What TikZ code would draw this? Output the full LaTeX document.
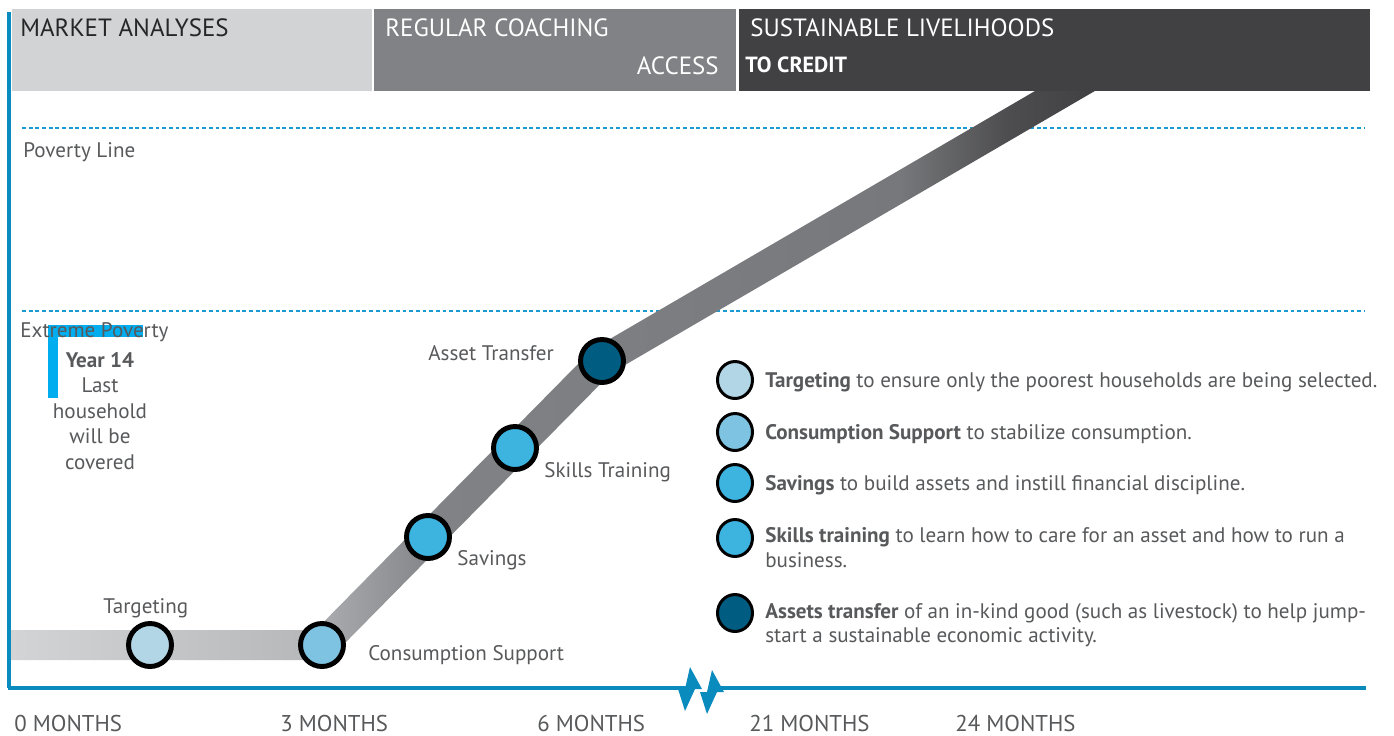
\documentclass[tikz,border=0pt]{standalone}
\usepackage{fontspec}
\setmainfont{PT Sans}
\usepackage{tikz}
\usetikzlibrary{shapes.geometric}

\definecolor{axisblue}{HTML}{0A8BBE}
\definecolor{dashblue}{HTML}{1A9AD0}
\definecolor{brackblue}{HTML}{00AEEF}
\definecolor{txtgray}{HTML}{58595B}
\definecolor{hdrlight}{HTML}{D1D3D4}
\definecolor{hdrmid}{HTML}{808285}
\definecolor{hdrdark}{HTML}{414042}
\definecolor{bandA}{HTML}{D3D4D6}
\definecolor{bandB}{HTML}{B8B9BB}
\definecolor{bandC}{HTML}{A7A9AC}
\definecolor{bandD}{HTML}{808285}
\definecolor{bandE}{HTML}{77787B}
\definecolor{bandF}{HTML}{4D4D4F}
\definecolor{bandG}{HTML}{414042}
\definecolor{stepA}{HTML}{B3D6E7}
\definecolor{stepB}{HTML}{7FC3E2}
\definecolor{stepC}{HTML}{3DB4E0}
\definecolor{stepD}{HTML}{005C80}

% gradient of the progress band, light on the left, dark at the top end
\pgfdeclarehorizontalshading{bandshade}{100bp}{%
    color(0bp)=(bandA); color(25bp)=(bandA); color(38.3bp)=(bandB);
    color(39.7bp)=(bandC); color(44.8bp)=(bandD); color(66bp)=(bandE);
    color(71bp)=(bandF); color(75bp)=(bandG); color(100bp)=(bandG)}

\begin{document}
\begin{tikzpicture}[
    x=0.02cm,y=-0.02cm,
    hdr/.style={font=\fontsize{14.2}{17}\selectfont,anchor=base west,inner sep=0},
    tick/.style={font=\fontsize{13}{16}\selectfont,text=txtgray,anchor=base west,inner sep=0},
    lvl/.style={font=\fontsize{12}{14}\selectfont,text=txtgray,anchor=base west,inner sep=0},
    stage/.style={circle,draw=black,line width=2.8pt,minimum size=0.86cm,inner sep=0},
    key/.style={ellipse,draw=black,line width=1.7pt,minimum width=0.7cm,
        minimum height=0.74cm,inner sep=0},
    keytext/.style={font=\fontsize{12}{14}\selectfont,text=txtgray,
        anchor=north west,inner sep=0,align=left},
    povline/.style={dashblue,line width=0.6pt,dash pattern=on 2.2pt off 1.6pt},
    ]
    \useasboundingbox (0,0) rectangle (1394,735);

    % Header bands
    \fill[hdrlight] (12,9) rectangle (372,91);
    \fill[hdrmid] (374,9) rectangle (736,91);
    \fill[hdrdark] (739,9) rectangle (1370,91);
    \node[hdr,text=black!85] (mkt) at (20,36) {MARKET ANALYSES};
    \node[hdr,text=white] (coach) at (385,36) {REGULAR COACHING};
    \node[hdr,text=white,anchor=base east] (access) at (719,74) {ACCESS};
    \node[hdr,text=white] (sust) at (750,36) {SUSTAINABLE LIVELIHOODS};
    \node[hdr,text=white,font=\bfseries\fontsize{12.5}{15}\selectfont]
        (credit) at (745,72) {TO CREDIT};

    % Poverty levels
    \draw[povline] (22,128) -- (1365,128);
    \draw[povline] (22,311) -- (1365,311);
    \node[lvl] (pline) at (23,157) {Poverty Line};
    % bracket
    \fill[brackblue] (48,325) rectangle (143,337);
    \fill[brackblue] (48,325) rectangle (58,398);
    \node[lvl] (xpline) at (20,337) {Extreme Poverty};
    \node[lvl,anchor=north,align=center,font=\fontsize{12}{14.5}\selectfont]
        (year) at (100,352) {\textbf{Year 14}\\Last\\household\\will be\\covered};

    % Progress band
    \shade[shading=bandshade] (10,630) -- (315.7,630) -- (592.9,348.9)
        -- (1035,91) -- (1094.8,91) -- (611.1,373.1) -- (328.3,660)
        -- (10,660) -- cycle;

    % Axes
    \draw[axisblue,line width=2.3pt] (9,12) -- (9,688);
    \draw[axisblue,line width=2.8pt] (8,688) -- (690,688);
    \draw[axisblue,line width=2.8pt] (710,688) -- (1366,688);
    % axis break
    \foreach \dx/\dy in {0/0,22/3}
        \fill[axisblue,shift={(\dx,\dy)}] (690,667) -- (702,689) -- (695,689)
            -- (685,711) -- (678,689) -- (685,689) -- cycle;
    \node[tick] (m0) at (14,731) {0 MONTHS};
    \node[tick] (m3) at (280,731) {3 MONTHS};
    \node[tick] (m6) at (537,731) {6 MONTHS};
    \node[tick] (m21) at (749,731) {21 MONTHS};
    \node[tick] (m24) at (955,731) {24 MONTHS};

    % Steps on the band
    \node[stage,fill=stepA] (tgt) at (150,645) {};
    \node[stage,fill=stepB] (cons) at (322,645) {};
    \node[stage,fill=stepC] (sav) at (428,537) {};
    \node[stage,fill=stepC] (skill) at (515,448) {};
    \node[stage,fill=stepD] (asset) at (602,361) {};
    \node[lvl] (tgtlbl) at (103,613) {Targeting};
    \node[lvl] (conslbl) at (368,660) {Consumption Support};
    \node[lvl] (savlbl) at (457,565) {Savings};
    \node[lvl] (skilllbl) at (544,477) {Skills Training};
    \node[lvl] (assetlbl) at (428,360) {Asset Transfer};

    % Legend
    \node[key,fill=stepA] (ktgt) at (735,380) {};
    \node[key,fill=stepB] (kcons) at (735,432) {};
    \node[key,fill=stepC] (ksav) at (735,483) {};
    \node[key,fill=stepC] (kskill) at (735,538) {};
    \node[key,fill=stepD] (kasset) at (735,613) {};
    \node[keytext] (ttgt) at (765,372)
        {\textbf{Targeting} to ensure only the poorest households are being selected.};
    \node[keytext] (tcons) at (765,424)
        {\textbf{Consumption Support} to stabilize consumption.};
    \node[keytext] (tsav) at (765,475)
        {\textbf{Savings} to build assets and instill financial discipline.};
    \node[keytext] (tskill) at (765,527)
        {\textbf{Skills training} to learn how to care for an asset and how to run a\\business.};
    \node[keytext] (tasset) at (765,603)
        {\textbf{Assets transfer} of an in-kind good (such as livestock) to help jump-\\start a sustainable economic activity.};
\end{tikzpicture}
\end{document}
